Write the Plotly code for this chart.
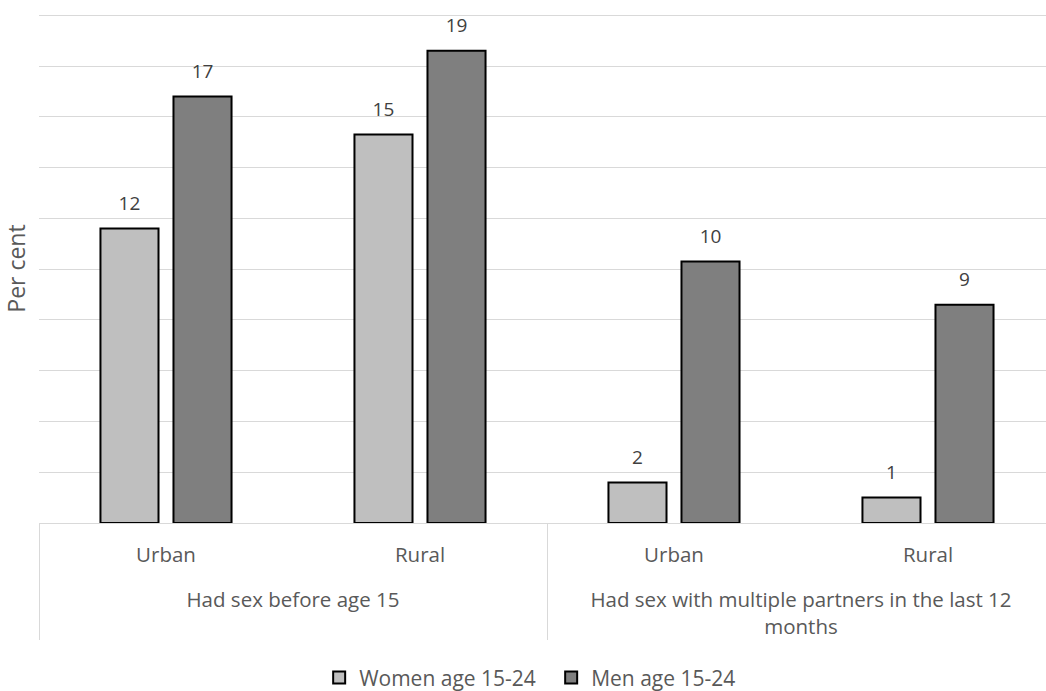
import plotly.graph_objects as go

# ---- data ----
indicators = [
    "Had sex before age 15",
    "Had sex before age 15",
    "Had sex with multiple partners in the last 12<br>months",
    "Had sex with multiple partners in the last 12<br>months",
]
areas = ["Urban", "Rural", "Urban", "Rural"]
women = [11.6, 15.3, 1.6, 1.0]
men = [16.8, 18.6, 10.3, 8.6]
series_names = ["Women age 15-24", "Men age 15-24"]
colors = ["#BFBFBF", "#7F7F7F"]

FONT = "Open Sans"
TXT = "#595959"

# extra (invisible) spacer line under the first-level labels
PAD = "<br><span style='font-size:26px'>\u00a0</span>"
area_labels = [a + PAD for a in areas]

fig = go.Figure()
for name, vals, col in zip(series_names, [women, men], colors):
    fig.add_trace(go.Bar(
        name=name, x=[indicators, area_labels], y=vals,
        marker=dict(color=col, line=dict(color="#000000", width=2)),
        hoverinfo="skip",
    ))
# data labels (above bars)
for name, vals in zip(series_names, [women, men]):
    fig.add_trace(go.Scatter(
        x=[indicators, area_labels], y=vals, mode="markers+text",
        texttemplate="%{y:.0f}", textposition="top center",
        textfont=dict(family=FONT, size=19, color="#404040"),
        marker=dict(size=21, color="rgba(0,0,0,0)"),
        showlegend=False, hoverinfo="skip", cliponaxis=False,
    ))

fig.update_layout(
    width=1046, height=691,
    margin=dict(l=39, r=0, t=14, b=168),
    paper_bgcolor="white", plot_bgcolor="white",
    barmode="group", bargap=0.425, bargroupgap=0.205,
    scattermode="group", scattergap=0.425,
    font=dict(family=FONT, size=20.5, color=TXT),
    showlegend=True,
    legend=dict(orientation="h", x=0.5086, xanchor="center",
                yref="container", y=0.019, yanchor="middle",
                entrywidth=187,
                font=dict(size=21, color=TXT), traceorder="normal"),
    xaxis=dict(type="multicategory", range=[-0.5, 3.4646],
               showdividers=True, dividercolor="#D9D9D9", dividerwidth=1,
               showline=True, linecolor="#D9D9D9", linewidth=1,
               ticks="", ticklabelstandoff=13,
               tickfont=dict(size=20.5, color=TXT),
               showgrid=False, zeroline=False),
    yaxis=dict(range=[0, 20.05], dtick=2, showticklabels=False,
               showgrid=True, gridcolor="#D9D9D9", gridwidth=1,
               zeroline=False, showline=False, ticks="",
               title=dict(text="Per cent", standoff=8,
                          font=dict(size=23, color=TXT))),
)

fig.write_html("out.html", config={"displayModeBar": False},
               post_script="document.body.style.margin='0';")
